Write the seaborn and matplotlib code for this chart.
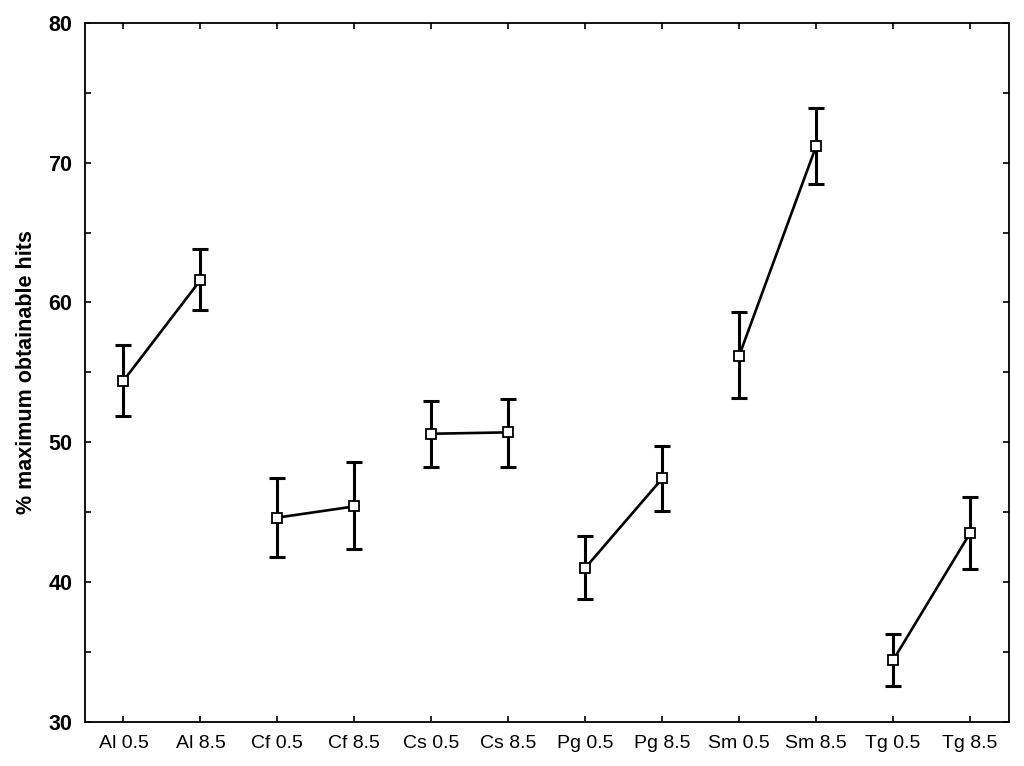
import matplotlib
matplotlib.use("Agg")
import matplotlib.pyplot as plt
import numpy as np
import pandas as pd
import seaborn as sns

# values
categories = ['Al 0.5', 'Al 8.5', 'Cf 0.5', 'Cf 8.5', 'Cs 0.5', 'Cs 8.5',
              'Pg 0.5', 'Pg 8.5', 'Sm 0.5', 'Sm 8.5', 'Tg 0.5', 'Tg 8.5']
groups = ['Al', 'Al', 'Cf', 'Cf', 'Cs', 'Cs', 'Pg', 'Pg', 'Sm', 'Sm', 'Tg', 'Tg']
means = [54.4, 61.6, 44.6, 45.4, 50.6, 50.7, 41.0, 47.4, 56.2, 71.2, 34.4, 43.5]
upper = [56.95, 63.85, 47.4, 48.6, 52.95, 53.1, 43.25, 49.75, 59.3, 73.9, 36.3, 46.1]
lower = [51.9, 59.45, 41.8, 42.35, 48.25, 48.25, 38.8, 45.05, 53.15, 68.5, 32.55, 40.9]

df = pd.DataFrame({'cat': categories, 'group': groups, 'mean': means,
                   'lo': lower, 'hi': upper})

sns.set_style('ticks')
plt.rcParams['font.family'] = ['Liberation Sans', 'DejaVu Sans']
plt.rcParams['text.color'] = 'black'
plt.rcParams['axes.labelcolor'] = 'black'
plt.rcParams['xtick.color'] = 'black'
plt.rcParams['ytick.color'] = 'black'

fig = plt.figure(figsize=(10.24, 7.66), dpi=100)
ax = fig.add_axes([0.083, 0.058, 0.902, 0.912])

yerr = [df['mean'] - df['lo'], df['hi'] - df['mean']]
ax.errorbar(df['cat'], df['mean'], yerr=yerr, fmt='none', ecolor='black',
            elinewidth=2.2, capsize=5.5, capthick=2.2, zorder=2)

sns.lineplot(data=df, x='cat', y='mean', units='group', estimator=None,
             sort=False, color='black', linewidth=1.9, marker='s',
             markersize=6.5, markerfacecolor='white', markeredgecolor='black',
             markeredgewidth=1.3, ax=ax, zorder=3)

ax.set_xlim(-0.5, len(categories) - 0.5)
ax.set_ylim(30, 80)
yt = np.arange(30, 81, 5)
ax.set_yticks(yt)
ax.set_yticklabels([str(v) if v % 10 == 0 else '' for v in yt],
                   fontsize=15.5, fontweight='bold')
ax.set_xticks(range(len(categories)))
ax.set_xticklabels(categories, fontsize=14)
ax.tick_params(direction='in', top=True, right=True, length=4, width=1.2,
               color='black')
ax.tick_params(axis='y', pad=9)
ax.tick_params(axis='x', pad=10)
for s in ax.spines.values():
    s.set_linewidth(1.3)
    s.set_color('black')

ax.set_xlabel('')
ax.set_ylabel('% maximum obtainable hits', fontsize=15.5, fontweight='bold')
ax.yaxis.set_label_coords(-0.052, 0.5)

fig.savefig('out.png', dpi=100)
